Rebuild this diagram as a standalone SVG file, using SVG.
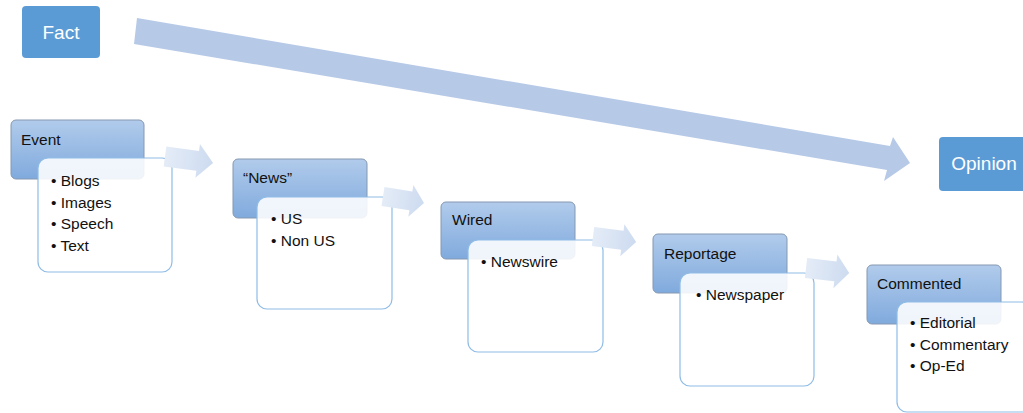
<svg xmlns="http://www.w3.org/2000/svg" width="1023" height="413" viewBox="0 0 1023 413">
<defs>
<linearGradient id="hdr" x1="0" y1="0" x2="0" y2="1">
<stop offset="0" stop-color="#b1cbeb"/>
<stop offset="1" stop-color="#80aadd"/>
</linearGradient>
<linearGradient id="arr" x1="0" y1="0" x2="1" y2="0">
<stop offset="0" stop-color="#e4ecf7"/>
<stop offset="1" stop-color="#cddbf0"/>
</linearGradient>
<path id="small" d="M0,-10 L34,-10 L34,-17 L50,0 L34,17 L34,10 L0,10 Z"/>
</defs>
<style>
.main{fill:#5b9bd5;}
.mainT{font-family:"Liberation Sans",Arial,sans-serif;font-size:19px;fill:#fff;text-anchor:middle;}
.hdr{fill:url(#hdr);stroke:#8598b0;stroke-width:1;}
.det{fill:#fff;fill-opacity:0.88;stroke:#8fbce6;stroke-width:1.2;}
.t{font-family:"Liberation Sans",Arial,sans-serif;font-size:15.5px;fill:#111;}
.sa{fill:url(#arr);}
</style>
<g id="bigArrow">
<polygon points="137,18 890,146 893,137 910,163 884,181 887,170 134,44" fill="#b6c9e7"/>
</g>
<g id="fact">
<rect class="main" x="22" y="6" width="78" height="52" rx="4"/>
<text class="mainT" x="61" y="39">Fact</text>
</g>
<g id="opinion">
<rect class="main" x="939" y="137" width="94" height="54" rx="4"/>
<text class="mainT" x="984" y="170">Opinion</text>
</g>
<g id="event">
<rect class="hdr" x="11" y="120" width="133" height="59" rx="5"/>
<text class="t" x="21" y="145">Event</text>
<rect class="det" x="38" y="158" width="134" height="114" rx="10"/>
<text class="t" x="51" y="186">• Blogs</text>
<text class="t" x="51" y="207.5">• Images</text>
<text class="t" x="51" y="229">• Speech</text>
<text class="t" x="51" y="250.5">• Text</text>
</g>
<g id="news">
<rect class="hdr" x="233" y="159" width="134" height="59" rx="5"/>
<text class="t" x="243" y="183">“News”</text>
<rect class="det" x="257" y="197" width="135" height="112" rx="10"/>
<text class="t" x="271" y="224">• US</text>
<text class="t" x="271" y="245.5">• Non US</text>
</g>
<g id="wired">
<rect class="hdr" x="441" y="202" width="134" height="57" rx="5"/>
<text class="t" x="452" y="225">Wired</text>
<rect class="det" x="468" y="240" width="135" height="112" rx="10"/>
<text class="t" x="481" y="267">• Newswire</text>
</g>
<g id="reportage">
<rect class="hdr" x="653" y="234" width="134" height="59" rx="5"/>
<text class="t" x="664" y="259">Reportage</text>
<rect class="det" x="680" y="273" width="134" height="113" rx="10"/>
<text class="t" x="696" y="300">• Newspaper</text>
</g>
<g id="commented">
<rect class="hdr" x="867" y="265" width="134" height="59" rx="5"/>
<text class="t" x="877" y="289">Commented</text>
<rect class="det" x="897" y="302" width="135" height="110" rx="10"/>
<text class="t" x="910" y="328">• Editorial</text>
<text class="t" x="910" y="349.5">• Commentary</text>
<text class="t" x="910" y="371">• Op-Ed</text>
</g>
<g id="connectors">
<use href="#small" class="sa" transform="translate(165,156.5) rotate(7.7) scale(0.97,1)"/>
<use href="#small" class="sa" transform="translate(383,196.5) rotate(9) scale(0.83,0.95)"/>
<use href="#small" class="sa" transform="translate(593,236.5) rotate(7.3) scale(0.87,0.95)"/>
<use href="#small" class="sa" transform="translate(806,268) rotate(6.6) scale(0.87,1)"/>
</g>
</svg>
